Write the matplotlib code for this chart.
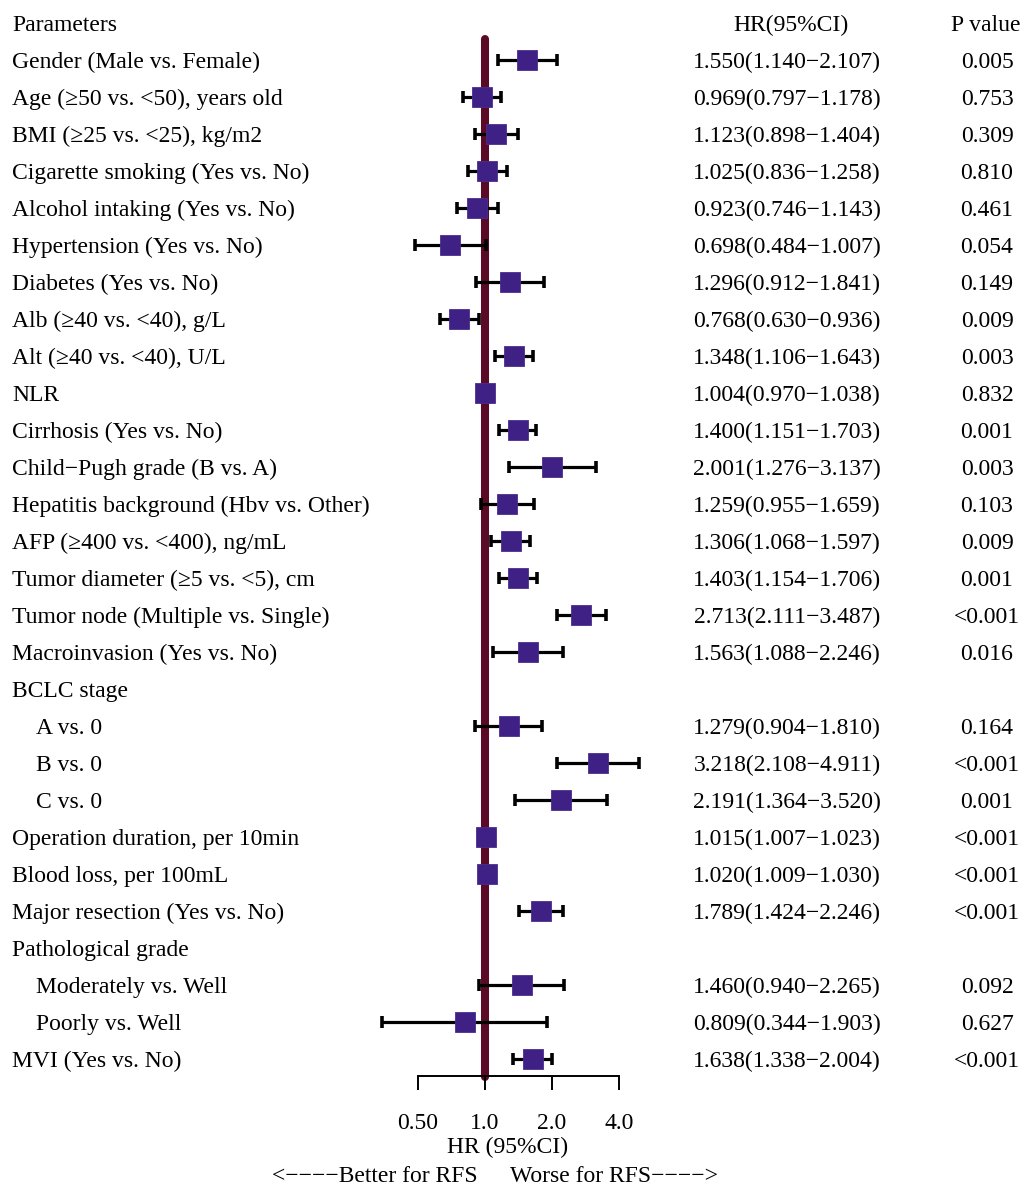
import matplotlib
matplotlib.use("Agg")
import matplotlib.pyplot as plt
import numpy as np

plt.rcParams['font.family'] = ['Liberation Serif', 'DejaVu Serif']

labels = ["Gender (Male vs. Female)", "Age (≥50 vs. <50), years old", "BMI (≥25 vs. <25), kg/m2",
          "Cigarette smoking (Yes vs. No)", "Alcohol intaking (Yes vs. No)", "Hypertension (Yes vs. No)",
          "Diabetes (Yes vs. No)", "Alb (≥40 vs. <40), g/L", "Alt (≥40 vs. <40), U/L", "NLR",
          "Cirrhosis (Yes vs. No)", "Child−Pugh grade (B vs. A)", "Hepatitis background (Hbv vs. Other)",
          "AFP (≥400 vs. <400), ng/mL", "Tumor diameter (≥5 vs. <5), cm", "Tumor node (Multiple vs. Single)",
          "Macroinvasion (Yes vs. No)", "BCLC stage", "A vs. 0", "B vs. 0", "C vs. 0",
          "Operation duration, per 10min", "Blood loss, per 100mL", "Major resection (Yes vs. No)",
          "Pathological grade", "Moderately vs. Well", "Poorly vs. Well", "MVI (Yes vs. No)"]
indent = [0]*18 + [1, 1, 1] + [0, 0, 0, 0] + [1, 1] + [0]
hr = [1.550, 0.969, 1.123, 1.025, 0.923, 0.698, 1.296, 0.768, 1.348, 1.004, 1.400, 2.001, 1.259,
      1.306, 1.403, 2.713, 1.563, None, 1.279, 3.218, 2.191, 1.015, 1.020, 1.789, None, 1.460, 0.809, 1.638]
lo = [1.140, 0.797, 0.898, 0.836, 0.746, 0.484, 0.912, 0.630, 1.106, 0.970, 1.151, 1.276, 0.955,
      1.068, 1.154, 2.111, 1.088, None, 0.904, 2.108, 1.364, 1.007, 1.009, 1.424, None, 0.940, 0.344, 1.338]
hi = [2.107, 1.178, 1.404, 1.258, 1.143, 1.007, 1.841, 0.936, 1.643, 1.038, 1.703, 3.137, 1.659,
      1.597, 1.706, 3.487, 2.246, None, 1.810, 4.911, 3.520, 1.023, 1.030, 2.246, None, 2.265, 1.903, 2.004]
pvals = ["0.005", "0.753", "0.309", "0.810", "0.461", "0.054", "0.149", "0.009", "0.003", "0.832",
         "0.001", "0.003", "0.103", "0.009", "0.001", "<0.001", "0.016", "", "0.164", "<0.001", "0.001",
         "<0.001", "<0.001", "<0.001", "", "0.092", "0.627", "<0.001"]
xticks = [0.5, 1.0, 2.0, 4.0]
xticklabels = ["0.50", "1.0", "2.0", "4.0"]

W, H = 1021, 1189
fig = plt.figure(figsize=(W/100, H/100), dpi=100)

def fx(px):
    return px / W

def fy(py):
    return 1 - py / H

ax_left, ax_right = 418, 619
ax_top, ax_bot = 37, 1076
ax = fig.add_axes([fx(ax_left), fy(ax_bot), fx(ax_right - ax_left), (ax_bot - ax_top) / H])
ax.set_xscale('log', base=2)
ax.set_xlim(0.5, 4.0)
n = len(labels)
row_px0, row_dp = 60, 37
ylo = (ax_bot - row_px0) / row_dp
yhi = (ax_top - row_px0) / row_dp
ax.set_ylim(ylo, yhi)

ax.plot([1, 1], [ylo + 0.03, yhi + 0.05], color='#5a0a26', lw=5.8, solid_capstyle='round',
        zorder=1, clip_on=False)

for i in range(n):
    if hr[i] is None:
        continue
    ax.errorbar([hr[i]], [i], xerr=[[hr[i] - lo[i]], [hi[i] - hr[i]]], fmt='none', ecolor='black',
                elinewidth=2.3, capsize=4, capthick=2.6, zorder=2, clip_on=False)
    ax.plot([hr[i]], [i], marker='s', ms=14.4, color='#3f2085', mec='#4a2c90', mew=0.6,
            zorder=3, clip_on=False, linestyle='none')

for s in ['top', 'right', 'left']:
    ax.spines[s].set_visible(False)
ax.spines['bottom'].set_linewidth(1.4)
ax.set_yticks([])
ax.set_xticks(xticks)
ax.set_xticklabels(xticklabels, fontsize=17)
ax.xaxis.set_minor_locator(matplotlib.ticker.NullLocator())
ax.tick_params(axis='x', direction='out', length=10, width=1.4, pad=16.6)
ax.patch.set_visible(False)

fs = 17
off = 8
fig.text(fx(12), fy(31), "Parameters", fontsize=fs, ha='left', va='baseline')
fig.text(fx(791), fy(31), "HR(95%CI)", fontsize=fs, ha='center', va='baseline')
fig.text(fx(986), fy(31), "P value", fontsize=fs, ha='center', va='baseline')
for i in range(n):
    y = row_px0 + i * row_dp
    fig.text(fx(12 + 24 * indent[i]), fy(y + off), labels[i], fontsize=fs, ha='left', va='baseline')
    if hr[i] is not None:
        fig.text(fx(787), fy(y + off), f"{hr[i]:.3f}({lo[i]:.3f}−{hi[i]:.3f})", fontsize=fs,
                 ha='center', va='baseline')
        fig.text(fx(987), fy(y + off), pvals[i], fontsize=fs, ha='center', va='baseline')

fig.text(fx(508), fy(1153), "HR (95%CI)", fontsize=fs, ha='center', va='baseline')
fig.text(fx(478), fy(1182), "<−−−−Better for RFS", fontsize=fs, ha='right', va='baseline')
fig.text(fx(510), fy(1182), "Worse for RFS−−−−>", fontsize=fs, ha='left', va='baseline')

fig.savefig("out.png", dpi=100)
